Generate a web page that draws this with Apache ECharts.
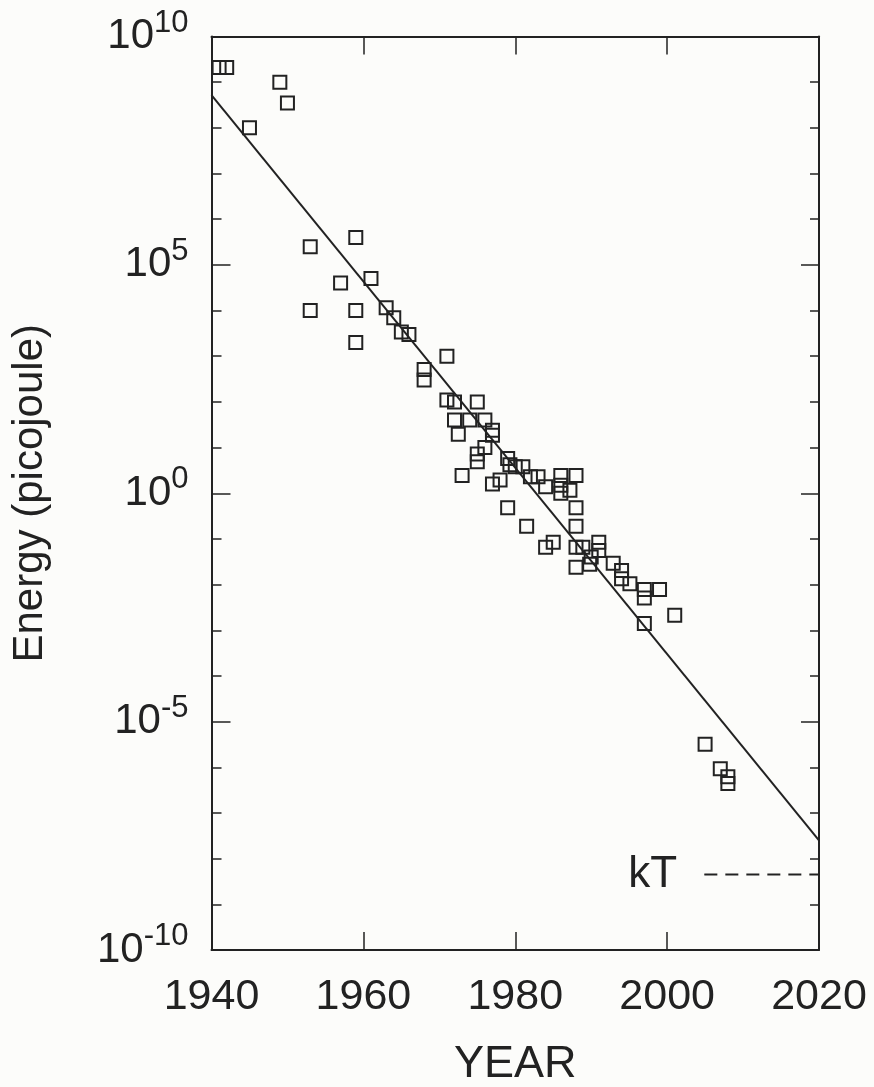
<!DOCTYPE html>
<html><head><meta charset="utf-8">
<script src="https://cdn.jsdelivr.net/npm/echarts@6/dist/echarts.min.js"></script>
<style>html,body{margin:0;padding:0;background:#fcfcfa}#c{width:874px;height:1087px}</style>
</head><body><div id="c"></div>
<script>
// Measured points: year and switching energy (picojoule)
const years = [1941, 1942, 1945, 1949, 1950, 1953, 1953, 1957, 1959, 1959, 1959, 1961, 1963, 1964, 1965, 1966,
  1968, 1968, 1971, 1971, 1972, 1975, 1972, 1974, 1976, 1972.5, 1977, 1977, 1976, 1975, 1975, 1973,
  1979, 1979.3, 1980, 1981, 1982, 1983, 1984, 1977, 1978, 1986, 1988, 1986, 1986, 1987.2,
  1979, 1988, 1981.5, 1988, 1984, 1985, 1988, 1988.9, 1991, 1991, 1988, 1989.8, 1990, 1992.9,
  1994, 1994, 1995.1, 1997, 1997, 1999, 2001, 1997, 2005, 2007, 2008, 2008];
const energy = [2.1e9, 2.1e9, 1e8, 1e9, 3.5e8, 2.5e5, 1e4, 4e4, 4e5, 1e4, 2e3, 5e4, 1.15e4, 7e3, 3.4e3, 3e3,
  510, 300, 1000, 110, 100, 100, 40, 40, 40, 19.5, 24, 18.6, 10, 7.2, 4.9, 2.45,
  5.75, 4.2, 3.8, 3.8, 2.3, 2.3, 1.38, 1.6, 1.95, 2.45, 2.45, 1.5, 1.0, 1.17,
  0.48, 0.48, 0.19, 0.19, 0.066, 0.085, 0.066, 0.066, 0.085, 0.056, 0.024, 0.028, 0.04, 0.0295,
  0.0204, 0.0135, 0.0105, 0.0078, 0.0051, 0.0078, 0.00214, 0.0014, 3.2e-6, 9.3e-7, 6.2e-7, 4.4e-7];
// Trend line end points
const fitYears = [1940, 2020];
const fitEnergy = [5.2e8, 2.5e-8];
// Thermal energy kT reference
const ktYears = [2004.9, 2020];
const ktEnergy = [4.5e-9, 4.5e-9];
const ktLabel = 'kT';
// Axes
const xMin = 1940, xMax = 2020, xStep = 20;
const yMinExp = -10, yMaxExp = 10, yMajorStep = 5, yMinorStep = 1;
const xName = 'YEAR';
const yName = 'Energy (picojoule)';

const INK = '#222222';
const TXT = '#222222';
const SANS = '"Liberation Sans", Arial, sans-serif';

const lg = v => Math.log10(v);
const pts = years.map((y, i) => [y, lg(energy[i])]);
const fit = fitYears.map((y, i) => [y, lg(fitEnergy[i])]);
const kt = ktYears.map((y, i) => [y, lg(ktEnergy[i])]);

const baseX = {type: 'value', min: xMin, max: xMax, interval: xStep, splitLine: {show: false},
  axisLine: {show: true, onZero: false, lineStyle: {color: INK, width: 2}},
  axisTick: {show: true, inside: true, length: 18, lineStyle: {color: INK, width: 1.5}}};
const baseY = {type: 'value', min: yMinExp, max: yMaxExp, splitLine: {show: false},
  axisLine: {show: true, onZero: false, lineStyle: {color: INK, width: 2}}};

const chart = echarts.init(document.getElementById('c'), null, {renderer: 'canvas'});
chart.setOption({
  backgroundColor: '#fcfcfa',
  animation: false,
  grid: {left: 211.5, right: 55, top: 36.5, bottom: 137, containLabel: false, outerBoundsMode: 'none'},
  xAxis: [
    Object.assign({}, baseX, {position: 'bottom',
      axisLabel: {show: true, margin: 26, fontSize: 43, lineHeight: 43, fontFamily: SANS, color: TXT,
        formatter: v => String(v)},
      name: xName, nameLocation: 'middle', nameGap: 115,
      nameTextStyle: {fontSize: 45, fontFamily: SANS, color: TXT, verticalAlign: 'middle'}}),
    Object.assign({}, baseX, {position: 'top', axisLabel: {show: false}})
  ],
  yAxis: [
    Object.assign({}, baseY, {position: 'left', interval: yMajorStep,
      axisTick: {show: true, inside: true, length: 19, lineStyle: {color: INK, width: 1.5}},
      axisLabel: {show: true, margin: 23,
        formatter: v => '{b|10}{s|' + Math.round(v) + '}',
        rich: {b: {fontSize: 42, lineHeight: 58, fontFamily: SANS, color: TXT, verticalAlign: 'middle'},
               s: {fontSize: 31, lineHeight: 22, fontFamily: SANS, color: TXT, verticalAlign: 'top'}}},
      name: yName, nameLocation: 'middle', nameGap: 181,
      nameTextStyle: {fontSize: 42, fontFamily: SANS, color: TXT, verticalAlign: 'middle'}}),
    Object.assign({}, baseY, {position: 'left', interval: yMinorStep, axisLine: {show: false},
      axisTick: {show: true, inside: true, length: 10, lineStyle: {color: INK, width: 1.5}},
      axisLabel: {show: false}}),
    Object.assign({}, baseY, {position: 'right', interval: yMajorStep,
      axisTick: {show: true, inside: true, length: 18, lineStyle: {color: INK, width: 1.5}},
      axisLabel: {show: false}}),
    Object.assign({}, baseY, {position: 'right', interval: yMinorStep, axisLine: {show: false},
      axisTick: {show: true, inside: true, length: 9, lineStyle: {color: INK, width: 1.5}},
      axisLabel: {show: false}})
  ],
  series: [
    {type: 'line', xAxisIndex: 0, yAxisIndex: 0, data: fit, symbol: 'none',
      lineStyle: {color: INK, width: 2}, z: 2},
    {type: 'line', xAxisIndex: 0, yAxisIndex: 0, data: kt, symbol: 'none',
      lineStyle: {color: INK, width: 2, type: [13, 8]}, z: 2},
    {type: 'scatter', xAxisIndex: 0, yAxisIndex: 0, data: [kt[0]], symbol: 'circle', symbolSize: 0.5,
      itemStyle: {color: INK, opacity: 1},
      label: {show: true, position: 'left', distance: 27, formatter: ktLabel, opacity: 1,
        fontSize: 44, fontFamily: SANS, color: TXT}, z: 3},
    {type: 'scatter', xAxisIndex: 0, yAxisIndex: 0, data: pts, symbol: 'rect', symbolSize: 13,
      itemStyle: {color: 'rgba(0,0,0,0)', borderColor: INK, borderWidth: 2, opacity: 1}, z: 4}
  ]
});
</script></body></html>
